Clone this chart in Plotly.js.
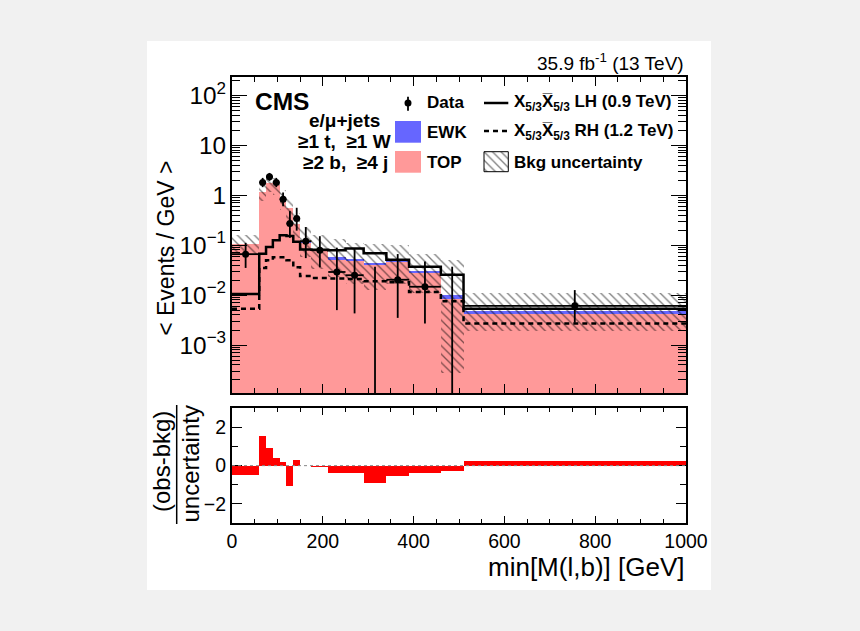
<!DOCTYPE html>
<html><head><meta charset="utf-8">
<script src="https://cdn.plot.ly/plotly-3.0.1.min.js"></script>
<style>
html,body{margin:0;padding:0;background:#f1f1f1;width:860px;height:631px;overflow:hidden}
#panel{position:absolute;left:147px;top:41px;width:564px;height:549px;background:#fff}
#plot{position:absolute;left:0;top:0;width:860px;height:631px}
</style></head><body>
<div id="panel"></div><div id="plot"></div>
<script>
// ---- data (per GeV) ----
const binEdges  = [0,60,75,90,105,120,135,150,175,212,250,290,340,390,460,510,1000];
const topBkg    = [0.105,1.15,1.75,1.6,0.85,0.55,0.26,0.11,0.078,0.051,0.048,0.040,0.046,0.0272,0.0083,0.0042];
const ewkBkg    = [0.002,0.01,0.01,0.01,0.008,0.006,0.008,0.012,0.004,0.006,0.005,0.004,0.003,0.0033,0.0018,0.0006];
const uncLow    = [0.068,0.75,1.15,1.0,0.5,0.3,0.14,0.058,0.034,0.023,0.017,0.0126,0.017,0.0108,0.00028,0.0019];
const uncHigh   = [0.16,1.6,2.4,2.2,1.25,0.85,0.45,0.23,0.158,0.13,0.108,0.105,0.1,0.066,0.05,0.0108];
const dataVal   = [0.066,1.8,2.33,1.8,0.83,0.27,0.34,0.12,0.079,0.029,0.025,0,0.0203,0.0147,0,0.0061];
const dataErrUp = [0.045,0.42,0.46,0.42,0.3,0.21,0.22,0.11,0.072,0.06,0.058,0.037,0.046,0.0325,0.037,0.0065];
const dataErrDn = [0.031,0.35,0.39,0.35,0.23,0.13,0.145,0.065,0.043,0.024,0.0207,0,0.0168,0.012,0,0.0033];
const sigLH     = [0.0105,0.067,0.092,0.125,0.158,0.152,0.117,0.082,0.081,0.079,0.086,0.069,0.051,0.037,0.0255,0.0053];
const sigRH     = [0.0053,0.035,0.05,0.057,0.057,0.05,0.036,0.024,0.022,0.0215,0.021,0.019,0.018,0.0115,0.0075,0.0027];
const pull      = [-0.47,1.56,0.9,0.4,0.19,-1.06,0.28,-0.03,-0.07,-0.36,-0.4,-0.93,-0.52,-0.36,-0.28,0.23];
const yLogRange = [-3.96, 2.366];

// ---- derived ----
const centers = binEdges.slice(0,-1).map((e,i)=>(e+binEdges[i+1])/2);
const widths  = binEdges.slice(0,-1).map((e,i)=>binEdges[i+1]-e);
const halfW   = widths.map(w=>w/2);
const stepY = a => a.concat([a[a.length-1]]);
const FONT = 'Liberation Sans, Arial, Helvetica, sans-serif';

// pixel helpers (plot area)
const L=232,R=686,T=77,B=523,W=R-L,H=B-T;
const px = p=>(p-L)/W, py = p=>(B-p)/H;

const nz = dataVal.map((v,i)=>v>0?i:-1).filter(i=>i>=0);
const zz = dataVal.map((v,i)=>v>0?-1:i).filter(i=>i>=0);
const yBottom = Math.pow(10, yLogRange[0]-0.5);
const zx=[], zy=[];
zz.forEach(i=>{zx.push(centers[i],centers[i],null); zy.push(yBottom,dataVal[i]+dataErrUp[i],null);});

const hatch = {shape:'\\',fgcolor:'#000',bgcolor:'rgba(0,0,0,0)',size:6,solidity:0.22,fillmode:'overlay'};
const traces = [
 {type:'bar',x:centers,y:topBkg,width:widths,marker:{color:'#ff9999',line:{width:0}},xaxis:'x',yaxis:'y'},
 {type:'bar',x:centers,y:ewkBkg,base:topBkg,width:widths,marker:{color:'#6666ff',line:{width:0}},xaxis:'x',yaxis:'y'},
 {type:'bar',x:centers,y:uncHigh.map((h,i)=>h-uncLow[i]),base:uncLow,width:widths,
  marker:{color:'rgba(0,0,0,0)',line:{width:0},pattern:hatch},xaxis:'x',yaxis:'y'},
 {type:'scatter',mode:'lines',x:binEdges,y:stepY(sigLH),line:{shape:'hv',color:'#000',width:2.5},xaxis:'x',yaxis:'y'},
 {type:'scatter',mode:'lines',x:binEdges,y:stepY(sigRH),line:{shape:'hv',color:'#000',width:2.5,dash:'5px,4px'},xaxis:'x',yaxis:'y'},
 {type:'scatter',mode:'lines',x:zx,y:zy,line:{color:'#000',width:1.8},xaxis:'x',yaxis:'y'},
 {type:'scatter',mode:'markers',x:nz.map(i=>centers[i]),y:nz.map(i=>dataVal[i]),
  marker:{color:'#000',size:7},
  error_y:{type:'data',symmetric:false,array:nz.map(i=>dataErrUp[i]),arrayminus:nz.map(i=>dataErrDn[i]),color:'#000',thickness:1.8,width:0},
  error_x:{type:'data',array:nz.map(i=>halfW[i]),color:'#000',thickness:1.8,width:0},xaxis:'x',yaxis:'y'},
 {type:'bar',x:centers,y:pull,width:widths,marker:{color:'#ff0000',line:{width:0}},xaxis:'x2',yaxis:'y2'},
 {type:'bar',x:[0.5],y:[1],width:[1],marker:{color:'rgba(0,0,0,0)',line:{width:0},pattern:hatch},xaxis:'x3',yaxis:'y3'}
];

const axCommon = {showline:true,linewidth:2,linecolor:'#000',mirror:'ticks',ticks:'inside',tickcolor:'#000',tickwidth:1,showgrid:false,zeroline:false,
  tickfont:{family:FONT,size:19.5,color:'#000'}};

const ann = (x,y,text,size,opts)=>Object.assign({xref:'paper',yref:'paper',x:px(x),y:py(y),text:text,showarrow:false,
  font:{family:FONT,size:size,color:'#000'},xanchor:'left',yanchor:'middle'},opts||{});

const annotations = [
 ann(252.7,101,'<b>CMS</b>',24.5),
 ann(344,121,'<b>e/μ+jets</b>',19,{xanchor:'center'}),
 ann(344,141.7,'<b>≥1 t,  ≥1 W</b>',19,{xanchor:'center'}),
 ann(345,162.7,'<b>≥2 b,  ≥4 j</b>',19,{xanchor:'center'}),
 ann(686,62,'35.9 fb<sup>-1</sup> (13 TeV)',19,{xanchor:'right'}),
 ann(425,103,'<b>Data</b>',17),
 ann(425,132,'<b>EWK</b>',17),
 ann(425,162,'<b>TOP</b>',17),
 ann(512,103,'<b>X<sub>5/3</sub>X\u0305<sub>5/3</sub> LH (0.9 TeV)</b>',17),
 ann(512,132,'<b>X<sub>5/3</sub>X\u0305<sub>5/3</sub> RH (1.2 TeV)</b>',17),
 ann(512,162,'<b>Bkg uncertainty</b>',17),
 ann(165.3,248.5,'< Events / GeV >',23,{xanchor:'center',textangle:-90}),
 ann(161,462,'(obs-bkg)',24,{xanchor:'center',textangle:-90}),
 ann(189.5,464,'uncertainty',24,{xanchor:'center',textangle:-90}),
 ann(686,566.7,'min[M(l,b)] [GeV]',26,{xanchor:'right'})
];

const rectPx = (x0,y0,x1,y1,o)=>Object.assign({type:'rect',xref:'paper',yref:'paper',x0:px(x0),x1:px(x1),y0:py(y1),y1:py(y0)},o);
const linePx = (x0,y0,x1,y1,o)=>Object.assign({type:'line',xref:'paper',yref:'paper',x0:px(x0),x1:px(x1),y0:py(y0),y1:py(y1)},o);
const shapes = [
 rectPx(395,121,421,142.7,{fillcolor:'#6666ff',line:{width:0}}),
 rectPx(395,151,421,172.7,{fillcolor:'#ff9999',line:{width:0}}),
 rectPx(484,151.7,508.3,171.7,{fillcolor:'rgba(0,0,0,0)',line:{width:1,color:'#000'}}),
 linePx(484,103,508.3,103,{line:{width:2.5,color:'#000'}}),
 linePx(484,131,508.3,131,{line:{width:2.5,color:'#000',dash:'5px,4px'}}),
 linePx(408,96.7,408,110.7,{line:{width:1.8,color:'#000'}}),
 {type:'circle',xref:'paper',yref:'paper',x0:px(404.5),x1:px(411.5),y0:py(106.5),y1:py(99.5),fillcolor:'#000',line:{width:0}},
 linePx(176.7,405,176.7,524,{line:{width:1.5,color:'#000'}}),
 {type:'line',xref:'x2 domain',yref:'y2',x0:0,x1:1,y0:0,y1:0,layer:'above',line:{color:'#888',width:1,dash:'3px,3px'}}
];

const layout = {
 width:860,height:631,margin:{l:L,r:860-R,t:T,b:631-B,pad:0},
 paper_bgcolor:'rgba(0,0,0,0)',plot_bgcolor:'rgba(0,0,0,0)',
 showlegend:false,barmode:'overlay',bargap:0,
 font:{family:FONT,color:'#000'},
 xaxis:Object.assign({},axCommon,{domain:[0,1],anchor:'y',range:[0,1000],tick0:0,dtick:200,ticklen:9,showticklabels:false,
   minor:{dtick:50,tick0:0,ticks:'inside',ticklen:5,tickcolor:'#000',tickwidth:1}}),
 yaxis:Object.assign({},axCommon,{domain:[py(393),1],anchor:'x',type:'log',range:yLogRange,dtick:1,tick0:0,exponentformat:'power',ticklen:15,
   minor:{dtick:'D1',ticks:'inside',ticklen:8,tickcolor:'#000',tickwidth:1}}),
 xaxis2:Object.assign({},axCommon,{domain:[0,1],anchor:'y2',range:[0,1000],tick0:0,dtick:200,ticklen:7,
   minor:{dtick:50,tick0:0,ticks:'inside',ticklen:4,tickcolor:'#000',tickwidth:1}}),
 yaxis2:Object.assign({},axCommon,{domain:[0,py(408.3)],anchor:'x2',range:[-3,3],tick0:0,dtick:2,ticklen:10,
   minor:{dtick:1,tick0:0,ticks:'inside',ticklen:6,tickcolor:'#000',tickwidth:1}}),
 xaxis3:{domain:[px(484),px(508.3)],anchor:'y3',range:[0,1],visible:false,fixedrange:true},
 yaxis3:{domain:[py(171.7),py(151.7)],anchor:'x3',range:[0,1],visible:false,fixedrange:true},
 annotations:annotations,shapes:shapes
};
Plotly.newPlot('plot',traces,layout,{staticPlot:true});
</script></body></html>
